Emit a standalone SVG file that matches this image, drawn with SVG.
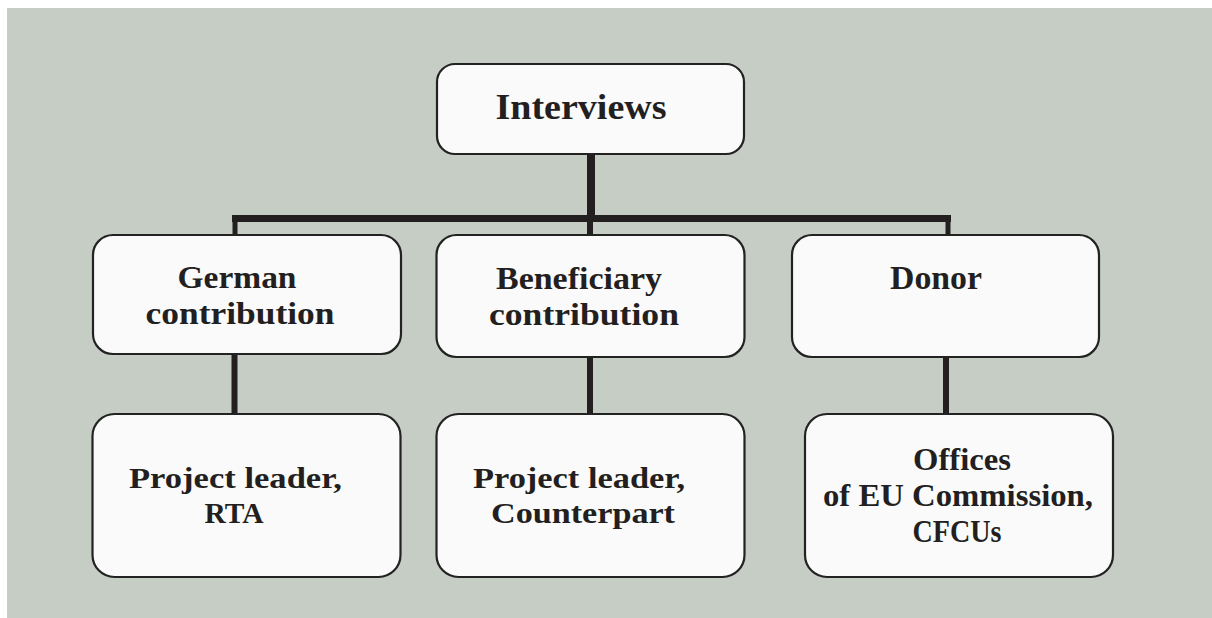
<svg xmlns="http://www.w3.org/2000/svg" width="1212" height="618" viewBox="0 0 1212 618">
<style>
.box{fill:#fafafa;stroke:#222;stroke-width:2.2}
.t{font-family:"Liberation Serif","Times New Roman",serif;font-weight:bold;font-size:31px;fill:#231f20;text-anchor:middle}
.b{font-size:30px}
.c{stroke:#231f20;fill:none;stroke-linecap:butt}
</style>
<rect x="0" y="0" width="1212" height="618" fill="#ffffff"/>
<rect x="7" y="8" width="1205" height="610" fill="#c5cdc5"/>
<g id="connectors">
<line class="c" x1="591" y1="154" x2="591" y2="219" stroke-width="8"/>
<line class="c" x1="232" y1="218.5" x2="951" y2="218.5" stroke-width="7"/>
<line class="c" x1="235" y1="218" x2="235" y2="235" stroke-width="5"/>
<line class="c" x1="590" y1="218" x2="590" y2="235" stroke-width="6"/>
<line class="c" x1="948" y1="218" x2="948" y2="235" stroke-width="5"/>
<line class="c" x1="234.5" y1="354" x2="234.5" y2="415" stroke-width="6"/>
<line class="c" x1="590" y1="357" x2="590" y2="415" stroke-width="6"/>
<line class="c" x1="946" y1="357" x2="946" y2="415" stroke-width="6"/>
</g>
<g id="interviews">
<rect class="box" x="437" y="64" width="307" height="90" rx="18"/>
<text class="t" x="581" y="119" style="font-size:36px" textLength="171" lengthAdjust="spacingAndGlyphs">Interviews</text>
</g>
<g id="german">
<rect class="box" x="93" y="235" width="308" height="119" rx="20"/>
<text class="t" x="237" y="288" textLength="119" lengthAdjust="spacingAndGlyphs">German</text>
<text class="t" x="240" y="324" textLength="189" lengthAdjust="spacingAndGlyphs">contribution</text>
</g>
<g id="beneficiary">
<rect class="box" x="436.5" y="235" width="308" height="122" rx="20"/>
<text class="t" x="579" y="289" textLength="166" lengthAdjust="spacingAndGlyphs">Beneficiary</text>
<text class="t" x="584" y="325" textLength="190" lengthAdjust="spacingAndGlyphs">contribution</text>
</g>
<g id="donor">
<rect class="box" x="792" y="235" width="307" height="122" rx="20"/>
<text class="t" x="936" y="289" style="font-size:34px" textLength="92" lengthAdjust="spacingAndGlyphs">Donor</text>
</g>
<g id="rta">
<rect class="box" x="92.5" y="414" width="308" height="163" rx="22"/>
<text class="t b" x="235.5" y="488" textLength="213" lengthAdjust="spacingAndGlyphs">Project leader,</text>
<text class="t b" x="234" y="523" textLength="59" lengthAdjust="spacingAndGlyphs">RTA</text>
</g>
<g id="counterpart">
<rect class="box" x="436.5" y="414" width="308" height="163" rx="22"/>
<text class="t b" x="579" y="488" textLength="212" lengthAdjust="spacingAndGlyphs">Project leader,</text>
<text class="t b" x="583" y="523" textLength="184" lengthAdjust="spacingAndGlyphs">Counterpart</text>
</g>
<g id="offices">
<rect class="box" x="805" y="414" width="308" height="163" rx="22"/>
<text class="t" x="962" y="470" textLength="98" lengthAdjust="spacingAndGlyphs">Offices</text>
<text class="t" x="958" y="506" textLength="270" lengthAdjust="spacingAndGlyphs">of EU Commission,</text>
<text class="t" x="957" y="542" textLength="89" lengthAdjust="spacingAndGlyphs">CFCUs</text>
</g>
</svg>
